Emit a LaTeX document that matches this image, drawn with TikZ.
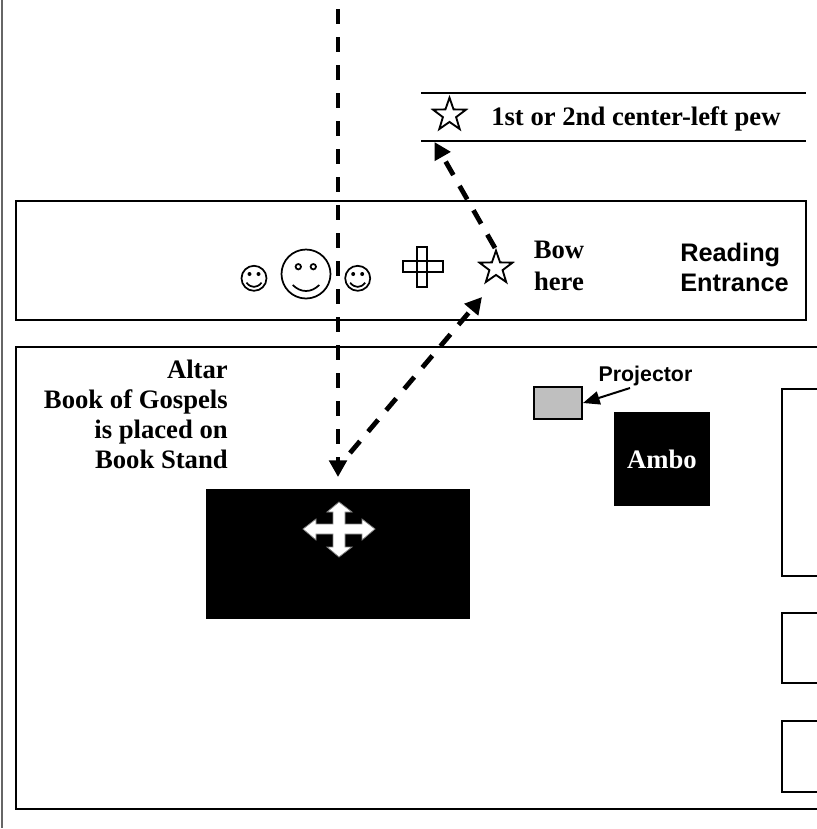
\documentclass[tikz,border=0pt]{standalone}
\usepackage{fontspec}
\setmainfont{Liberation Serif}
\newfontfamily\arialfont{Liberation Sans}
\usetikzlibrary{arrows.meta,shapes.geometric}
\tikzset{
  wall/.style={line width=1.5pt},
  walk/.style={line width=3.6pt,dash pattern=on 11.6pt off 9.4pt,-{Triangle[length=12.5pt,width=13pt]}},
  lbl/.style={font=\bfseries\fontsize{20}{22.5}\selectfont,inner sep=0pt},
  sanslbl/.style={font=\arialfont\bfseries\fontsize{19}{22.5}\selectfont,inner sep=0pt},
  starmark/.style={star,star points=5,star point ratio=2.5,draw,line width=1.4pt,minimum size=26pt,inner sep=0pt},
  face/.style={line width=1.3pt}
}
\begin{document}
\begin{tikzpicture}[x=0.75pt,y=-0.75pt]
\useasboundingbox (0,0) rectangle (817,829);
% outer line and rooms
\draw[gray!80!black,line width=1pt] (2,0) -- (2,828);
\draw[wall] (806,201) -- (16,201) -- (16,320) -- (806,320) -- cycle;
\draw[wall] (817,347) -- (16,347) -- (16,809) -- (817,809);
\draw[wall] (421,93) -- (806,93);
\draw[wall] (421,141) -- (806,141);
\draw[wall] (817,389) -- (782,389) -- (782,576) -- (817,576);
\draw[wall] (817,613) -- (782,613) -- (782,683) -- (817,683);
\draw[wall] (817,721) -- (782,721) -- (782,792) -- (817,792);
% tables
\node[fill=black,minimum width=198pt,minimum height=97.5pt,inner sep=0pt] (altar) at (338,554) {};
\node[fill=black,minimum width=72pt,minimum height=70.5pt,inner sep=0pt,text=white,lbl] (ambo) at (662,459) {Ambo};
\node[draw,line width=1.5pt,fill=black!25,minimum width=36pt,minimum height=24.5pt,inner sep=0pt] (proj) at (558,403) {};
\node[font=\arialfont\bfseries\fontsize{16}{18}\selectfont,inner sep=0pt] (projlbl) at (645.5,376) {Projector};
\draw[line width=1.5pt,-{Triangle[length=12.5pt,width=10pt]}] (630,388) -- (proj.east);
% book stand arrows
\draw[fill=white,draw=gray,line width=0.6pt] (339,502) -- (352,512) -- (345,512) -- (345,524) -- (362,524) -- (362,519)
  -- (375,529) -- (362,540) -- (362,534) -- (345,534) -- (345,547) -- (352,547) -- (339,557) -- (327,547) -- (333,547)
  -- (333,534) -- (316,534) -- (316,540) -- (303,529) -- (316,519) -- (316,524) -- (333,524) -- (333,512) -- (327,512) -- cycle;
% people
\foreach \c in {254,357.7} {
  \begin{scope}[shift={(\c,278.3)}]
  \draw[face] (0,0) circle (12.5);
  \fill (-4.5,-4.3) circle (2);
  \fill (4.5,-4.3) circle (2);
  \draw[face] (-7.5,4.4) .. controls (-3,10) and (3,10) .. (7.5,4.4);
  \end{scope}
}
\draw[face] (306,274) circle (24.5);
\draw[face] (298.3,266.7) circle (2.7);
\draw[face] (313.3,266.7) circle (2.7);
\draw[face] (292.7,285) .. controls (301,293) and (311,293) .. (319.3,285);
% cross
\draw[line width=1.4pt] (416.7,246.7) rectangle (427.3,287.3);
\draw[line width=1.4pt] (402.7,260.7) rectangle (443.3,271.7);
% stars
\node[starmark] (bowstar) at (496,268) {};
\node[starmark] (pewstar) at (449.5,115) {};
\coordinate (top) at (338,9);
\coordinate (altarTop) at (338,477);
\coordinate (bowA) at (495,248);
\coordinate (pew) at (434.5,142);
\coordinate (altarEnd) at (350,453);
\coordinate (bowB) at (482,297);
% walking paths
\draw[walk] (top) -- (altarTop);
\draw[walk] (bowA) -- (pew);
\draw[walk] (altarEnd) -- (bowB);
% labels
\node[lbl,anchor=base west] (pewlbl) at (491,125) {1st or 2nd center-left pew};
\node[lbl,align=center] (bowlbl) at (559,266) {Bow\\[2pt]here};
\node[sanslbl,align=left,anchor=west] (entry) at (680,267) {Reading\\Entrance};
\node[lbl,align=right,anchor=north east] (altarlbl) at (228,360) {Altar\\Book of Gospels\\is placed on\\Book Stand};
\end{tikzpicture}
\end{document}
